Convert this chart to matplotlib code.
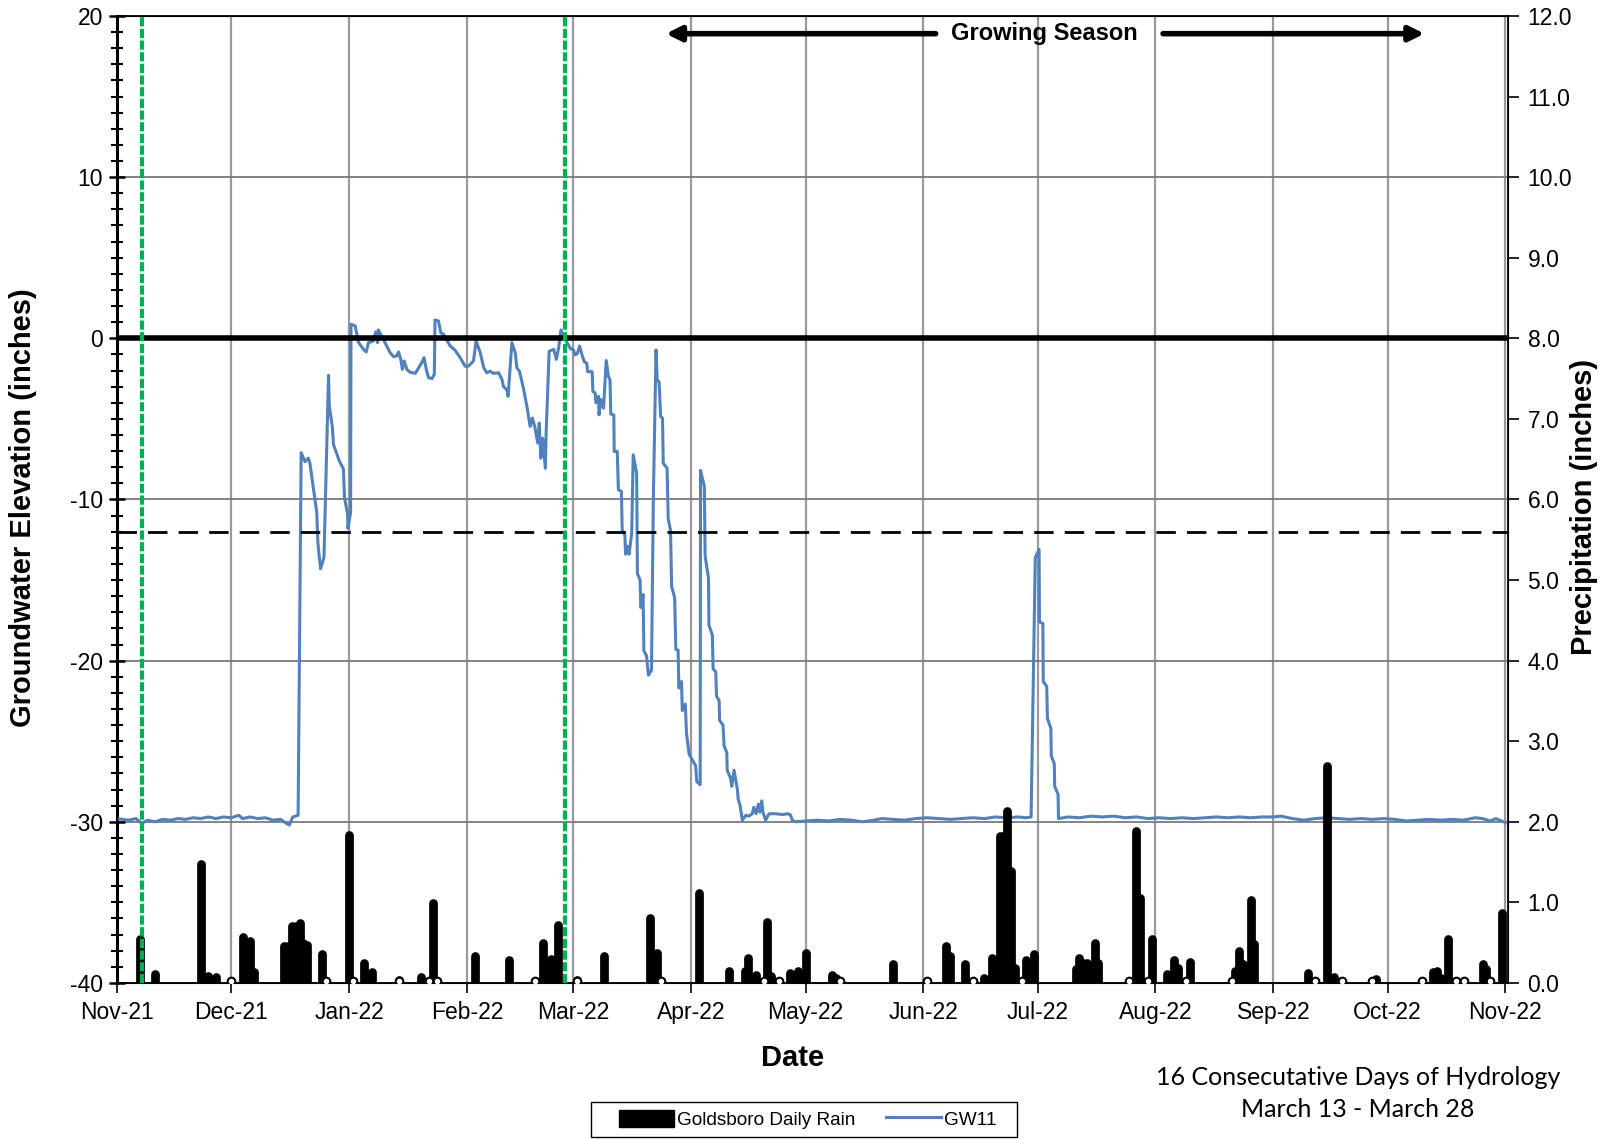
import datetime
import matplotlib
matplotlib.use('Agg')
import matplotlib.pyplot as plt
import matplotlib.dates as mdates
from matplotlib.ticker import MultipleLocator, FormatStrFormatter
from matplotlib.patches import Patch, Rectangle
from matplotlib.lines import Line2D
import numpy as np

plt.rcParams['font.family'] = ['Liberation Sans', 'DejaVu Sans']
plt.rcParams['axes.unicode_minus'] = False

# days counted from 1 Nov 2021
t0 = mdates.date2num(datetime.datetime(2021, 11, 1))

# GW11 groundwater elevation (inches) as (day, value)
gw_fall = [(0, -29.8), (3, -29.9), (5, -29.8), (6.5, -30.1), (8, -29.9), (10, -30.0), (12, -29.85),
           (14, -29.9), (16, -29.8), (18, -29.85), (20, -29.75), (22, -29.8), (24, -29.7),
           (26, -29.8), (28, -29.7), (30, -29.75), (32, -29.6), (33, -29.8), (35, -29.7),
           (37, -29.8), (39, -29.75), (41, -29.9), (43, -29.85), (44.5, -30.1), (45.3, -30.2),
           (46.2, -29.7), (47.6, -29.6)]
gw_winter = [(48.4, -7.1), (49.4, -7.65), (50.3, -7.44), (50.7, -7.75), (52.5, -10.8), (52.8, -12.7),
             (53.5, -14.3), (54.4, -13.6), (55.6, -2.3), (55.8, -4.2), (56.6, -5.5), (56.9, -6.6),
             (57.8, -7.2), (58.5, -7.65), (59.5, -8.1), (59.8, -9.9), (60.6, -10.9), (60.7, -11.8),
             (61.4, -10.8), (61.5, 0.87), (62.6, 0.77), (63.5, -0.27), (64.8, -0.69), (65.5, -0.85),
             (66.1, -0.27), (67.4, -0.17), (68, 0.4), (68.5, -0.27), (68.7, 0.52), (70, -0.06),
             (71.8, -0.9), (72.7, -1.14), (73.5, -1.1), (74, -0.85), (74.6, -1.3), (75, -1.93),
             (75.5, -1.41), (76.2, -1.93), (77, -2.1), (78.4, -2.18), (80.1, -1.52), (80.7, -1.2),
             (81.3, -1.93), (81.9, -2.45), (82.8, -2.5), (83.4, -2.25), (83.6, 1.14), (84.5, 1.08),
             (85.1, 0.35), (85.8, 0.25), (87.6, -0.48), (88.9, -0.75), (90.2, -1.2), (91.5, -1.73),
             (92.4, -1.73), (93.7, -1.41), (94.4, -0.17), (95.5, -0.9), (96.4, -1.83), (97.2, -2.14),
             (98.1, -2.04), (99, -2.18), (100.3, -2.14), (101.2, -2.56), (101.6, -3.0), (102.5, -3.2),
             (102.8, -3.6), (103.8, -0.27), (104.7, -0.9), (105.1, -1.83), (105.8, -2.04),
             (106.3, -2.56), (106.9, -3.18), (107.8, -4.3), (108.6, -5.47), (109.2, -4.95),
             (109.9, -5.57), (110.6, -6.5), (111, -5.26), (111.4, -7.44), (111.9, -6.2),
             (112.6, -8.07), (112.8, -5.9), (113.6, -0.8), (114.8, -0.69), (115.5, -1.31),
             (116.1, -0.58), (116.7, 0.52), (117.4, 0.15), (118.3, -0.27), (119.2, -0.64)]
gw_spring = [(120, -0.72), (120.4, -1.03), (121, -0.95), (121.6, -0.48), (122.2, -1.0), (122.8, -1.45),
             (123.5, -1.55), (123.7, -2.07), (124.9, -2.07), (125.1, -3.3), (125.7, -3.4),
             (125.9, -4.0), (126.6, -3.6), (126.7, -4.75), (127.2, -3.8), (127.9, -4.34),
             (128.6, -1.38), (129.2, -2.38), (129.6, -2.58), (129.8, -4.7), (130.6, -4.75),
             (130.7, -7.02), (131.5, -7.02), (131.8, -9.4), (132.6, -9.5), (132.8, -11.9),
             (133.5, -12.2), (133.7, -13.4), (134.1, -12.9), (134.6, -13.4), (135.3, -12.1),
             (135.7, -7.23), (136.6, -8.37), (136.8, -14.6), (137.5, -15.0), (137.7, -16.7),
             (138.3, -15.9), (138.5, -19.4), (139.2, -19.7), (139.7, -20.9), (140.5, -20.6),
             (141, -9.8), (141.7, -0.72), (142, -2.58), (142.5, -2.7), (142.9, -4.86), (143.4, -4.96),
             (143.6, -7.75), (144.6, -8.06), (144.9, -11.2), (145.5, -11.9), (145.8, -15.4),
             (146.6, -16.1), (146.9, -19.3), (147.5, -19.35), (147.7, -21.7), (148.4, -21.3),
             (148.6, -23.1), (149.4, -22.7), (149.7, -24.5), (150.4, -25.8), (151.3, -26.2),
             (152.1, -26.5), (152.4, -27.5), (153.3, -27.7), (153.4, -8.2), (154.4, -9.2),
             (154.6, -13.5), (155.5, -14.9), (155.6, -17.8), (156.5, -18.4), (156.7, -20.5),
             (157.4, -20.7), (157.6, -22.2), (158.3, -22.5), (158.4, -23.7), (159.3, -24.0),
             (159.6, -25.3), (160.3, -25.7), (160.4, -26.8), (161.3, -27.3), (161.6, -27.8),
             (162.2, -26.8), (162.5, -27.2), (163.1, -28.0), (163.3, -28.6), (163.8, -29.0),
             (164.4, -29.9), (165.3, -29.6), (166.1, -29.65), (167, -29.5), (167.4, -29.1),
             (168, -29.5), (168.6, -28.9), (169, -29.4), (169.5, -28.7), (169.8, -29.4),
             (170.5, -29.9), (171.4, -29.5), (173.1, -29.5), (174.9, -29.55), (176.5, -29.5),
             (177.1, -29.6), (177.5, -29.9)]
gw_summer = [(178.4, -30.0), (181, -29.95), (184, -29.9), (187, -29.95), (190, -29.85), (193, -29.9),
             (196, -30.0), (199, -29.9), (201, -29.8), (204, -29.85), (207, -29.9), (210, -29.8),
             (213, -29.75), (216, -29.8), (219, -29.85), (222, -29.8), (225, -29.75), (228, -29.8),
             (231, -29.7), (234, -29.75), (237, -29.7), (239, -29.75), (240.3, -29.7)]
gw_july = [(241.4, -13.6), (242.4, -13.1), (242.5, -17.6), (243.4, -17.7), (243.5, -21.3),
           (244.4, -21.6), (244.6, -23.6), (245.5, -24.2), (245.6, -25.9), (246.4, -26.4),
           (246.5, -27.8), (247.4, -28.3), (247.5, -29.8)]
gw_late = [(250, -29.7), (253, -29.75), (256, -29.65), (259, -29.7), (262, -29.65), (265, -29.75),
           (268, -29.7), (271, -29.8), (274, -29.75), (277, -29.8), (280, -29.75), (283, -29.8),
           (286, -29.75), (289, -29.7), (292, -29.75), (295, -29.7), (298, -29.75), (301, -29.7),
           (304, -29.7), (306, -29.65), (309, -29.8), (312, -29.9), (315, -29.8), (318, -29.75),
           (321, -29.8), (324, -29.85), (327, -29.8), (330, -29.85), (333, -29.8), (336, -29.85),
           (339, -29.95), (342, -29.9), (345, -29.85), (348, -29.9), (351, -29.85), (354, -29.9),
           (357, -29.75), (359, -29.8), (361, -29.95), (362.5, -29.8), (364, -29.95), (365, -30.05)]

# Goldsboro daily rain (inches) as (day, value)
rain_fall = [(6, 0.55), (10, 0.11), (22, 1.47), (24, 0.09), (26, 0.07), (33, 0.57), (35, 0.52),
             (36, 0.13), (44, 0.46), (45, 0.46), (46, 0.71), (47, 0.71), (48, 0.74), (49, 0.50),
             (50, 0.47), (54, 0.36), (61, 1.84), (65, 0.25), (67, 0.13), (74, 0.04), (80, 0.07),
             (83, 0.99), (94, 0.34), (103, 0.29), (112, 0.49), (114, 0.30), (116, 0.72), (121, 0.04)]
rain_spring = [(128, 0.33), (140, 0.81), (142, 0.37), (153, 1.12), (161, 0.15), (165, 0.15),
               (166, 0.31), (168, 0.10), (171, 0.76), (172, 0.09), (177, 0.12), (179, 0.15),
               (181, 0.37), (188, 0.10), (189, 0.06), (204, 0.23), (213, 0.03), (218, 0.46),
               (219, 0.34), (223, 0.23), (225, 0.03), (228, 0.06), (230, 0.31), (232, 1.82),
               (233, 1.82), (234, 2.13), (235, 1.39), (236, 0.19), (239, 0.29), (241, 0.36)]
rain_summer = [(252, 0.17), (253, 0.31), (254, 0.25), (255, 0.25), (257, 0.50), (258, 0.25),
               (268, 1.88), (269, 1.06), (272, 0.54), (276, 0.11), (278, 0.29), (279, 0.19),
               (282, 0.26), (294, 0.15), (295, 0.40), (296, 0.24), (298, 1.03), (299, 0.48),
               (313, 0.12), (318, 2.69), (320, 0.07), (331, 0.05), (346, 0.13), (347, 0.15),
               (348, 0.06), (350, 0.54), (359, 0.24), (360, 0.17), (364, 0.87)]
# days with 0.00 rain shown as small open circles
zero_day = [30, 55, 62, 74, 82, 84, 110, 121, 143, 170, 174, 190, 213, 225, 238, 266, 271, 281,
            293, 315, 322, 330, 343, 352, 354, 361]

green_day = [6.5, 117.8]
gs_left = (215.2, 144.3)     # (tail, head)
gs_right = (275.0, 343.7)
gs_text_day = 243.9
gs_y = 18.9
criteria = -12
surface = 0

blue = '#4F81BD'

gw = np.array(gw_fall + gw_winter + gw_spring + gw_summer + gw_july + gw_late)
rain = np.array(rain_fall + rain_spring + rain_summer)

fig = plt.figure(figsize=(16.1, 11.39), dpi=100)
ax = fig.add_axes([0.0727, 0.137, 0.864, 0.849])
ax2 = ax.twinx()

ax.plot(t0 + gw[:, 0], gw[:, 1], color=blue, lw=2.2, zorder=3)
ax.axhline(surface, color='black', lw=4, zorder=4)
ax.axhline(criteria, color='black', lw=2, ls=(0, (7, 4)), zorder=4)

ax.set_xlim(t0, t0 + 365.7)
ax.set_ylim(-40, 20)
ax.xaxis_date()
ax.xaxis.set_major_locator(mdates.MonthLocator())
ax.xaxis.set_major_formatter(mdates.DateFormatter('%b-%y'))
ax.yaxis.set_major_locator(MultipleLocator(10))
ax.yaxis.set_minor_locator(MultipleLocator(1))
ax.set_axisbelow(True)
ax.grid(axis='x', color='#9a9a9a', lw=1.6)
ax.grid(axis='y', which='major', color='#7a7a7a', lw=1.3)
ax.tick_params(axis='x', direction='out', length=7, width=1.2, labelsize=16.5, pad=6)
ax.tick_params(axis='y', which='major', direction='inout', length=12, width=1.8, labelsize=16.5, pad=4)
ax.tick_params(axis='y', which='minor', direction='inout', length=9, width=1.5)
ax.spines['left'].set_linewidth(2.2)
for s in ('bottom', 'top', 'right'):
    ax.spines[s].set_linewidth(1.3)

# rain bars on the right axis
bars = ax2.vlines(t0 + rain[:, 0], 0, rain[:, 1], color='black', lw=6.3, zorder=5)
bars.set_capstyle('round')
ax2.plot(t0 + np.array(zero_day), [0.03] * len(zero_day), 'o', ms=5.5, mfc='white',
         mec='black', mew=1.5, zorder=6)
for d in green_day:
    ax2.axvline(t0 + d, color='#00B050', lw=3, ls=(0, (2.2, 0.6)), zorder=7)
ax2.set_ylim(0, 12)
ax2.yaxis.set_major_locator(MultipleLocator(1))
ax2.yaxis.set_major_formatter(FormatStrFormatter('%.1f'))
ax2.tick_params(axis='y', direction='out', length=8, width=1.2, labelsize=16.5, pad=6)

# growing season arrows
for tail, head in (gs_left, gs_right):
    ax.annotate('', xy=(t0 + head, gs_y), xytext=(t0 + tail, gs_y),
                arrowprops=dict(arrowstyle='-|>', lw=4, color='black', mutation_scale=22,
                                shrinkA=0, shrinkB=0))
ax.text(t0 + gs_text_day, gs_y, 'Growing Season', ha='center', va='center',
        fontsize=17, fontweight='bold')

fig.text(0.014, 0.554, 'Groundwater Elevation (inches)', rotation=90, ha='center', va='center',
         fontsize=21, fontweight='bold')
fig.text(0.984, 0.555, 'Precipitation (inches)', rotation=90, ha='center', va='center',
         fontsize=21, fontweight='bold')
fig.text(0.4925, 0.0711, 'Date', ha='center', va='center', fontsize=21, fontweight='bold')

fig.text(0.8435, 0.0544, '16 Consecutative Days of Hydrology', ha='center', va='center',
         fontsize=18, family=['Lato', 'DejaVu Sans'])
fig.text(0.8435, 0.0255, 'March 13 - March 28', ha='center', va='center',
         fontsize=18, family=['Lato', 'DejaVu Sans'])

# legend: box drawn separately so the left padding matches
fig.patches.append(Rectangle((0.3673, 0.0021), 0.2641, 0.0306, transform=fig.transFigure,
                             facecolor='white', edgecolor='black', lw=1.0))
handles = [Patch(facecolor='black', edgecolor='black'),
           Line2D([0], [0], color=blue, lw=2.2)]
fig.legend(handles, ['Goldsboro Daily Rain', 'GW11'], loc='center',
           bbox_to_anchor=(0.5016, 0.0174), ncol=2, fontsize=13.7, frameon=False,
           handlelength=2.9, handleheight=1.0, handletextpad=0.15, columnspacing=1.6,
           borderpad=0.2, borderaxespad=0)

fig.savefig('out.png', dpi=100)
